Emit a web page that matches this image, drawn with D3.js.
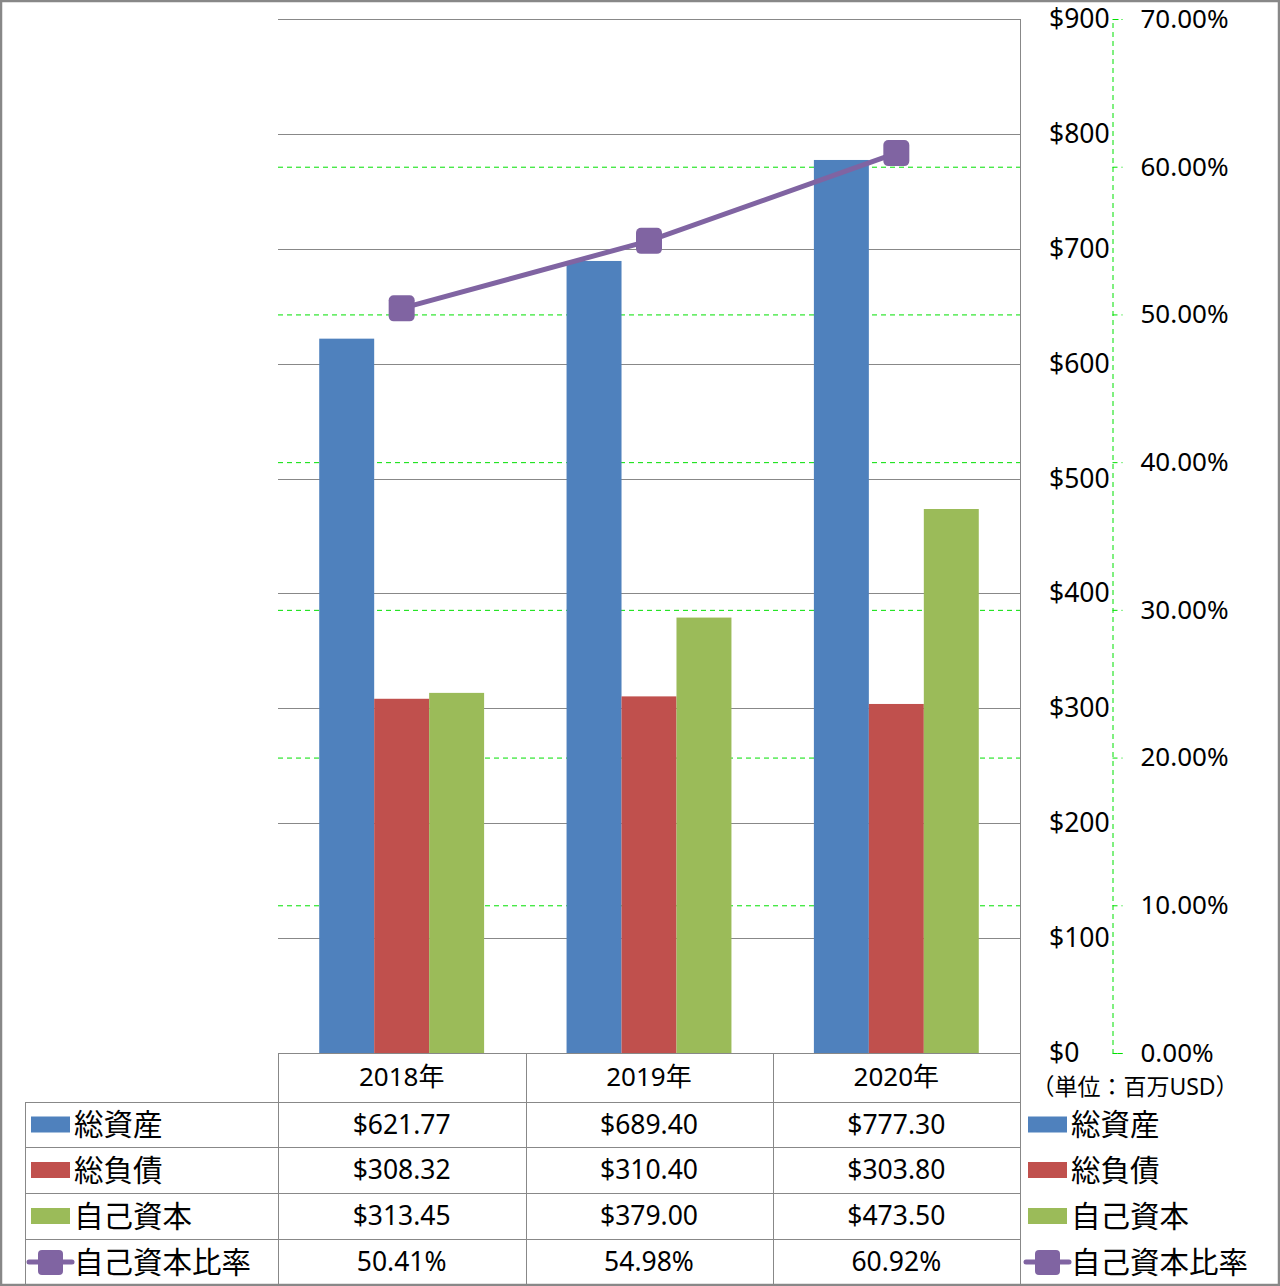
<!DOCTYPE html>
<html>
<head>
<meta charset="utf-8">
<script src="https://d3js.org/d3.v7.min.js"></script>
<style>
body { margin: 0; background: #fff; }
text { font-family: "Noto Sans", "Noto Sans CJK JP", sans-serif; fill: #000; }
</style>
</head>
<body>
<script>
var years = ["2018年", "2019年", "2020年"];
var seriesNames = ["総資産", "総負債", "自己資本"];
var totalAssets = [621.77, 689.40, 777.30];
var totalLiabilities = [308.32, 310.40, 303.80];
var equity = [313.45, 379.00, 473.50];
var equityRatio = [50.41, 54.98, 60.92];
var ratioName = "自己資本比率";
var unitLabel = "（単位：百万USD）";
var dollarTicks = [0, 100, 200, 300, 400, 500, 600, 700, 800, 900];
var pctTicks = [0, 10, 20, 30, 40, 50, 60, 70];

var colors = ["#4F81BD", "#C0504D", "#9BBB59"];
var lineColor = "#8064A2";
var series = [totalAssets, totalLiabilities, equity];

var W = 1280, H = 1286;
var plotL = 278, plotR = 1020, plotT = 19, plotB = 1053;
var gridColor = "#888";

var svg = d3.select("body").append("svg")
  .attr("width", W)
  .attr("height", H);

var y = d3.scaleLinear().domain([0, 900]).range([plotB, plotT]);
var y2 = d3.scaleLinear().domain([0, 70]).range([plotB, plotT]);
var x0 = d3.scaleBand().domain(years).range([plotL, plotR]);
// gap width 150% -> bar = band / 4.5
var bw = x0.bandwidth();
var x1 = d3.scaleBand().domain(seriesNames)
  .range([bw * 0.75 / 4.5, bw - bw * 0.75 / 4.5]);

// green dashed gridlines (secondary)
svg.append("g").selectAll("line")
  .data(pctTicks.slice(1))
  .enter().append("line")
  .attr("x1", plotL).attr("x2", plotR)
  .attr("y1", d => y2(d) + 0.5).attr("y2", d => y2(d) + 0.5)
  .attr("stroke", "#00e000")
  .attr("stroke-dasharray", "5,4");

// grey gridlines
svg.append("g").selectAll("line")
  .data(dollarTicks.slice(1))
  .enter().append("line")
  .attr("x1", plotL).attr("x2", plotR)
  .attr("y1", d => Math.round(y(d)) + 0.5).attr("y2", d => Math.round(y(d)) + 0.5)
  .attr("stroke", gridColor);

// right border of plot
svg.append("line")
  .attr("x1", plotR + 0.5).attr("x2", plotR + 0.5)
  .attr("y1", plotT).attr("y2", plotB)
  .attr("stroke", gridColor);

// bars
var groups = svg.append("g").selectAll("g")
  .data(years)
  .enter().append("g")
  .attr("transform", d => `translate(${x0(d)},0)`);

groups.selectAll("rect")
  .data((d, i) => series.map((s, j) => ({ name: seriesNames[j], v: s[i], c: colors[j] })))
  .enter().append("rect")
  .attr("x", d => x1(d.name))
  .attr("width", x1.bandwidth())
  .attr("y", d => y(d.v))
  .attr("height", d => plotB - y(d.v))
  .attr("fill", d => d.c);

// ratio line
var line = d3.line()
  .x((d, i) => x0(years[i]) + bw / 2)
  .y(d => y2(d));

svg.append("path")
  .datum(equityRatio)
  .attr("d", line)
  .attr("fill", "none")
  .attr("stroke", lineColor)
  .attr("stroke-width", 5);

svg.append("g").selectAll("rect")
  .data(equityRatio)
  .enter().append("rect")
  .attr("x", (d, i) => x0(years[i]) + bw / 2 - 13)
  .attr("y", d => y2(d) - 13)
  .attr("width", 26).attr("height", 26)
  .attr("rx", 5)
  .attr("fill", lineColor);

// left ($) axis labels, left-aligned as in the original
var axisL = d3.axisLeft(y)
  .tickValues(dollarTicks)
  .tickSize(0)
  .tickPadding(0)
  .tickFormat(d => "$" + d);

var gL = svg.append("g")
  .attr("transform", "translate(1049,0)")
  .call(axisL);
gL.select(".domain").remove();
gL.selectAll("text")
  .attr("text-anchor", "start")
  .style("font-size", "26.5px")
  .attr("fill", "#000");

// secondary (%) axis
var axisR = d3.axisRight(y2)
  .tickValues(pctTicks)
  .tickSize(10)
  .tickPadding(18)
  .tickFormat(d => d3.format(".2f")(d) + "%");

var gR = svg.append("g")
  .attr("transform", "translate(1112.5,0)")
  .call(axisR);
gR.select(".domain")
  .attr("stroke", "#00e000")
  .attr("stroke-dasharray", "5,4");
gR.selectAll(".tick line")
  .attr("stroke", "#00e000")
  .attr("stroke-dasharray", "5,4");
gR.selectAll("text")
  .style("font-size", "26px")
  .attr("fill", "#000");

svg.append("text")
  .attr("x", 1135).attr("y", 1086)
  .attr("text-anchor", "middle")
  .attr("dominant-baseline", "central")
  .style("font-size", "23px")
  .text(unitLabel);

// data table
var colX = [278, 526, 773, 1020];
var rowY = [1102, 1147, 1193, 1239, 1285];
var tbl = svg.append("g").attr("stroke", gridColor).attr("fill", "none");

colX.forEach(function(cx) {
  tbl.append("line")
    .attr("x1", cx + 0.5).attr("x2", cx + 0.5)
    .attr("y1", plotB).attr("y2", 1285);
});
tbl.append("line")
  .attr("x1", 25.5).attr("x2", 25.5)
  .attr("y1", rowY[0]).attr("y2", 1285);
tbl.append("line")
  .attr("x1", plotL).attr("x2", plotR)
  .attr("y1", plotB + 0.5).attr("y2", plotB + 0.5);
rowY.forEach(function(ry) {
  tbl.append("line")
    .attr("x1", 25).attr("x2", plotR)
    .attr("y1", ry + 0.5).attr("y2", ry + 0.5);
});

// header row
svg.append("g").selectAll("text")
  .data(years)
  .enter().append("text")
  .attr("x", d => x0(d) + bw / 2)
  .attr("y", (plotB + rowY[0]) / 2 - 2)
  .attr("text-anchor", "middle")
  .attr("dominant-baseline", "central")
  .style("font-size", "26px")
  .text(d => d);

var fmtD = d => "$" + d3.format(".2f")(d);
var fmtP = d => d3.format(".2f")(d) + "%";
var rows = [
  { name: seriesNames[0], vals: totalAssets, fmt: fmtD, color: colors[0] },
  { name: seriesNames[1], vals: totalLiabilities, fmt: fmtD, color: colors[1] },
  { name: seriesNames[2], vals: equity, fmt: fmtD, color: colors[2] },
  { name: ratioName, vals: equityRatio, fmt: fmtP, color: lineColor, isLine: true }
];

rows.forEach(function(r, ri) {
  var cy = (rowY[ri] + rowY[ri + 1]) / 2;
  svg.append("g").selectAll("text")
    .data(r.vals)
    .enter().append("text")
    .attr("x", (d, i) => x0(years[i]) + bw / 2)
    .attr("y", cy - 1)
    .attr("text-anchor", "middle")
    .attr("dominant-baseline", "central")
    .style("font-size", "26.5px")
    .text(d => r.fmt(d));

  [31, 1028].forEach(function(lx) {
    if (r.isLine) {
      svg.append("line")
        .attr("x1", lx - 2).attr("x2", lx + 41)
        .attr("y1", cy).attr("y2", cy)
        .attr("stroke", r.color).attr("stroke-width", 5)
        .attr("stroke-linecap", "round");
      svg.append("rect")
        .attr("x", lx + 7).attr("y", cy - 12)
        .attr("width", 25).attr("height", 25)
        .attr("rx", 4).attr("fill", r.color);
    } else {
      svg.append("rect")
        .attr("x", lx).attr("y", cy - 8)
        .attr("width", 39).attr("height", 16)
        .attr("fill", r.color);
    }
    svg.append("text")
      .attr("x", lx + 43).attr("y", cy - 1)
      .attr("dominant-baseline", "central")
      .style("font-size", "29.5px")
      .text(r.name);
  });
});

// outer border
svg.append("rect")
  .attr("x", 1).attr("y", 1)
  .attr("width", W - 2).attr("height", H - 2)
  .attr("fill", "none")
  .attr("stroke", gridColor)
  .attr("stroke-width", 2.5);
</script>
</body>
</html>
